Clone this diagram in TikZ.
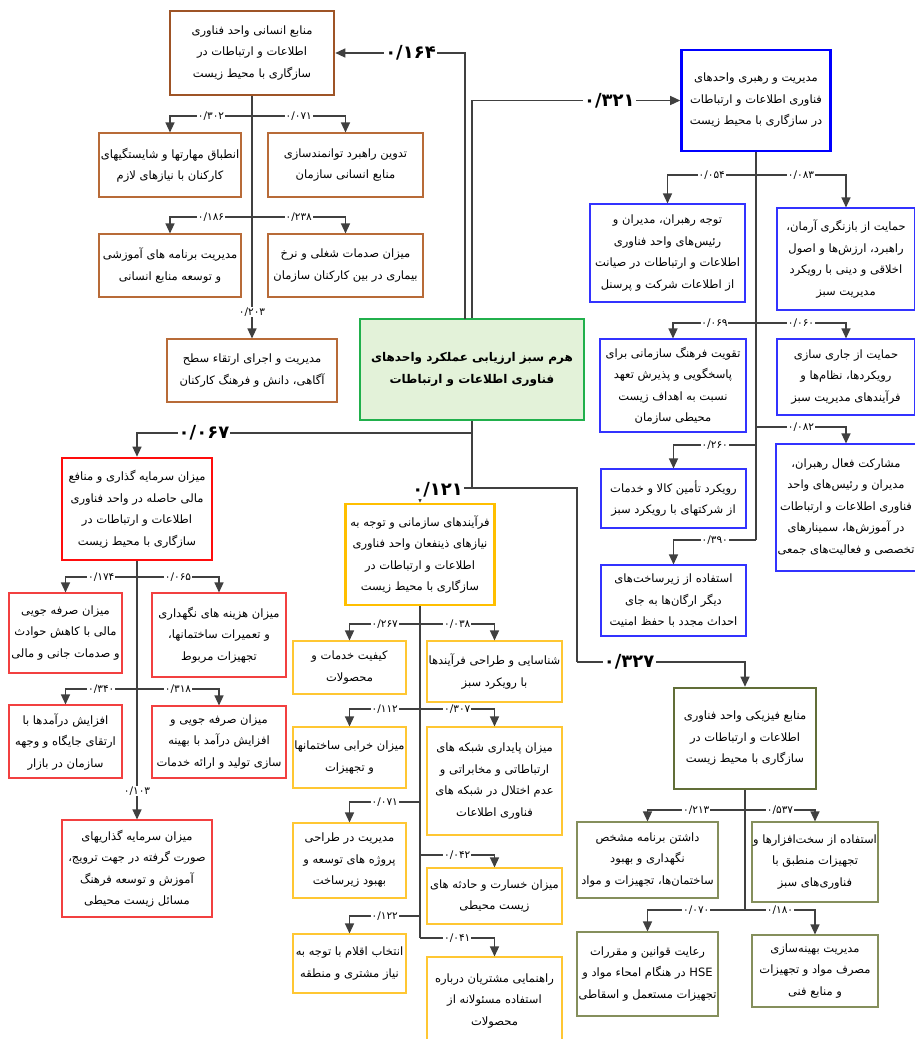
\documentclass[tikz,border=0pt]{standalone}
\usepackage{fontspec}
\usetikzlibrary{arrows.meta}
\newfontfamily\farsi[Script=Arabic]{DejaVu Sans}
\TeXXeTstate=1
\newcommand\fa[1]{\beginR#1\endR}
\definecolor{wire}{rgb}{0.25,0.25,0.25}
\definecolor{brn}{rgb}{0.62,0.33,0.15}
\definecolor{brnlight}{rgb}{0.72,0.42,0.22}
\definecolor{blu}{rgb}{0.00,0.00,1.00}
\definecolor{blulight}{rgb}{0.20,0.20,1.00}
\definecolor{grn}{rgb}{0.13,0.69,0.30}
\definecolor{grnfill}{rgb}{0.89,0.95,0.85}
\definecolor{rd}{rgb}{1.00,0.05,0.05}
\definecolor{rdlight}{rgb}{0.95,0.25,0.25}
\definecolor{ylw}{rgb}{1.00,0.75,0.00}
\definecolor{ylwlight}{rgb}{1.00,0.78,0.20}
\definecolor{olv}{rgb}{0.38,0.43,0.22}
\definecolor{olvlight}{rgb}{0.52,0.56,0.36}

\begin{document}
\begin{tikzpicture}[x=1pt,y=-1pt,
   leaf/.style={draw,line width=1.1pt,align=center,inner sep=1pt,
                font=\farsi\fontsize{11.5}{21.5}\selectfont},
   head/.style={leaf,line width=2.6pt},
   wire/.style={draw=wire,line width=1.3pt},
   arr/.style={wire,-{Triangle[length=10pt,width=9pt]}},
   num/.style={fill=white,inner sep=0.8pt,font=\farsi\fontsize{10.5}{11}\selectfont},
   bignum/.style={fill=white,inner sep=1.2pt,font=\farsi\bfseries\fontsize{18}{19}\selectfont}]
  \path[use as bounding box,fill=white] (0,0) rectangle (914,1039);

  % centre
  \node[head,draw=grn,fill=grnfill,minimum width=224,minimum height=101,
        font=\farsi\bfseries\fontsize{12}{22}\selectfont] (hub) at (472,369.5)
    {\fa{هرم سبز ارزیابی عملکرد واحدهای}\\\fa{فناوری اطلاعات و ارتباطات}};

  % human resources
  \node[head,draw=brn,minimum width=164,minimum height=84] (hr) at (252,53)
    {\fa{منابع انسانی واحد فناوری}\\\fa{اطلاعات و ارتباطات در}\\\fa{سازگاری با محیط زیست}};
  \node[leaf,draw=brnlight,minimum width=142,minimum height=64] (h1) at (170,165)
    {\fa{انطباق مهارتها و شایستگیهای}\\\fa{کارکنان با نیازهای لازم}};
  \node[leaf,draw=brnlight,minimum width=155,minimum height=64] (h2) at (345.5,165)
    {\fa{تدوین راهبرد توانمندسازی}\\\fa{منابع انسانی سازمان}};
  \node[leaf,draw=brnlight,minimum width=142,minimum height=63] (h3) at (170,265.5)
    {\fa{مدیریت برنامه های آموزشی}\\\fa{و توسعه منابع انسانی}};
  \node[leaf,draw=brnlight,minimum width=155,minimum height=63] (h4) at (345.5,265.5)
    {\fa{میزان صدمات شغلی و نرخ}\\\fa{بیماری در بین کارکنان سازمان}};
  \node[leaf,draw=brnlight,minimum width=170,minimum height=63] (h5) at (252,370.5)
    {\fa{مدیریت و اجرای ارتقاء سطح}\\\fa{آگاهی، دانش و فرهنگ کارکنان}};

  % leadership
  \node[head,draw=blu,minimum width=149,minimum height=101] (lead) at (756,100.5)
    {\fa{مدیریت و رهبری واحدهای}\\\fa{فناوری اطلاعات و ارتباطات}\\\fa{در سازگاری با محیط زیست}};
  \node[leaf,draw=blulight,minimum width=155,minimum height=98] (b1) at (667.5,253)
    {\fa{توجه رهبران، مدیران و}\\\fa{رئیس‌های واحد فناوری}\\\fa{اطلاعات و ارتباطات در صیانت}\\\fa{از اطلاعات شرکت و پرسنل}};
  \node[leaf,draw=blulight,minimum width=138,minimum height=102] (b2) at (846,259)
    {\fa{حمایت از بازنگری آرمان،}\\\fa{راهبرد، ارزش‌ها و اصول}\\\fa{اخلاقی و دینی با رویکرد}\\\fa{مدیریت سبز}};
  \node[leaf,draw=blulight,minimum width=146,minimum height=93] (b3) at (673,385.5)
    {\fa{تقویت فرهنگ سازمانی برای}\\\fa{پاسخگویی و پذیرش تعهد}\\\fa{نسبت به اهداف زیست}\\\fa{محیطی سازمان}};
  \node[leaf,draw=blulight,minimum width=138,minimum height=76] (b4) at (846,377)
    {\fa{حمایت از جاری سازی}\\\fa{رویکردها، نظام‌ها و}\\\fa{فرآیندهای مدیریت سبز}};
  \node[leaf,draw=blulight,minimum width=140,minimum height=127] (b5) at (846,507.5)
    {\fa{مشارکت فعال رهبران،}\\\fa{مدیران و رئیس‌های واحد}\\\fa{فناوری اطلاعات و ارتباطات}\\\fa{در آموزش‌ها، سمینارهای}\\\fa{تخصصی و فعالیت‌های جمعی}};
  \node[leaf,draw=blulight,minimum width=145,minimum height=59] (b6) at (673.5,498.5)
    {\fa{رویکرد تأمین کالا و خدمات}\\\fa{از شرکتهای با رویکرد سبز}};
  \node[leaf,draw=blulight,minimum width=145,minimum height=71] (b7) at (673.5,600.5)
    {\fa{استفاده از زیرساخت‌های}\\\fa{دیگر ارگان‌ها به جای}\\\fa{احداث مجدد با حفظ امنیت}};

  % finance
  \node[head,draw=rd,minimum width=150,minimum height=102] (fin) at (137,509)
    {\fa{میزان سرمایه گذاری و منافع}\\\fa{مالی حاصله در واحد فناوری}\\\fa{اطلاعات و ارتباطات در}\\\fa{سازگاری با محیط زیست}};
  \node[leaf,draw=rdlight,minimum width=113,minimum height=80] (f1) at (65.5,633)
    {\fa{میزان صرفه جویی}\\\fa{مالی با کاهش حوادث}\\\fa{و صدمات جانی و مالی}};
  \node[leaf,draw=rdlight,minimum width=134,minimum height=84] (f2) at (219,635)
    {\fa{میزان هزینه های نگهداری}\\\fa{و تعمیرات ساختمانها،}\\\fa{تجهیزات مربوط}};
  \node[leaf,draw=rdlight,minimum width=113,minimum height=73] (f3) at (65.5,741.5)
    {\fa{افزایش درآمدها با}\\\fa{ارتقای جایگاه و وجهه}\\\fa{سازمان در بازار}};
  \node[leaf,draw=rdlight,minimum width=134,minimum height=72] (f4) at (219,742)
    {\fa{میزان صرفه جویی و}\\\fa{افزایش درآمد با بهینه}\\\fa{سازی تولید و ارائه خدمات}};
  \node[leaf,draw=rdlight,minimum width=150,minimum height=97] (f5) at (137,868.5)
    {\fa{میزان سرمایه گذاریهای}\\\fa{صورت گرفته در جهت ترویج،}\\\fa{آموزش و توسعه فرهنگ}\\\fa{مسائل زیست محیطی}};

  % processes
  \node[head,draw=ylw,minimum width=149,minimum height=101] (proc) at (420,554.5)
    {\fa{فرآیندهای سازمانی و توجه به}\\\fa{نیازهای ذینفعان واحد فناوری}\\\fa{اطلاعات و ارتباطات در}\\\fa{سازگاری با محیط زیست}};
  \node[leaf,draw=ylwlight,minimum width=113,minimum height=53] (p1) at (349.5,667.5)
    {\fa{کیفیت خدمات و}\\\fa{محصولات}};
  \node[leaf,draw=ylwlight,minimum width=135,minimum height=61] (p2) at (494.5,671.5)
    {\fa{شناسایی و طراحی فرآیندها}\\\fa{با رویکرد سبز}};
  \node[leaf,draw=ylwlight,minimum width=113,minimum height=61] (p3) at (349.5,757.5)
    {\fa{میزان خرابی ساختمانها}\\\fa{و تجهیزات}};
  \node[leaf,draw=ylwlight,minimum width=135,minimum height=108] (p4) at (494.5,781)
    {\fa{میزان پایداری شبکه های}\\\fa{ارتباطاتی و مخابراتی و}\\\fa{عدم اختلال در شبکه های}\\\fa{فناوری اطلاعات}};
  \node[leaf,draw=ylwlight,minimum width=113,minimum height=75] (p5) at (349.5,860.5)
    {\fa{مدیریت در طراحی}\\\fa{پروژه های توسعه و}\\\fa{بهبود زیرساخت}};
  \node[leaf,draw=ylwlight,minimum width=135,minimum height=56] (p6) at (494.5,896)
    {\fa{میزان خسارت و حادثه های}\\\fa{زیست محیطی}};
  \node[leaf,draw=ylwlight,minimum width=113,minimum height=59] (p7) at (349.5,963.5)
    {\fa{انتخاب اقلام با توجه به}\\\fa{نیاز مشتری و منطقه}};
  \node[leaf,draw=ylwlight,minimum width=135,minimum height=88] (p8) at (494.5,1001)
    {\fa{راهنمایی مشتریان درباره}\\\fa{استفاده مسئولانه از}\\\fa{محصولات}};

  % physical resources
  \node[head,draw=olv,minimum width=142,minimum height=101] (phys) at (745,738.5)
    {\fa{منابع فیزیکی واحد فناوری}\\\fa{اطلاعات و ارتباطات در}\\\fa{سازگاری با محیط زیست}};
  \node[leaf,draw=olvlight,minimum width=141,minimum height=76] (g1) at (647.5,860)
    {\fa{داشتن برنامه مشخص}\\\fa{نگهداری و بهبود}\\\fa{ساختمان‌ها، تجهیزات و مواد}};
  \node[leaf,draw=olvlight,minimum width=126,minimum height=80] (g2) at (815,862)
    {\fa{استفاده از سخت‌افزارها و}\\\fa{تجهیزات منطبق با}\\\fa{فناوری‌های سبز}};
  \node[leaf,draw=olvlight,minimum width=141,minimum height=84] (g3) at (647.5,974)
    {\fa{رعایت قوانین و مقررات}\\\fa{\beginL HSE\endL{} در هنگام امحاء مواد و}\\\fa{تجهیزات مستعمل و اسقاطی}};
  \node[leaf,draw=olvlight,minimum width=126,minimum height=72] (g4) at (815,971)
    {\fa{مدیریت بهینه‌سازی}\\\fa{مصرف مواد و تجهیزات}\\\fa{و منابع فنی}};

  % junctions
  \coordinate (up) at (465,319);
  \coordinate (lj) at (472,433);
  \coordinate (mj) at (472,488);
  \coordinate (rj) at (577,662);
  \coordinate (hj1) at (252,116);
  \coordinate (hj2) at (252,217);
  \coordinate (bj1) at (756,175);
  \coordinate (bj2) at (756,323);
  \coordinate (bj3) at (756,427);
  \coordinate (bj4) at (756,445);
  \coordinate (bj5) at (756,540);
  \coordinate (fj1) at (137,577);
  \coordinate (fj2) at (137,689);
  \coordinate (pj1) at (420,624);
  \coordinate (pj2) at (420,709);
  \coordinate (pj3) at (420,802);
  \coordinate (pj4) at (420,855);
  \coordinate (pj5) at (420,916);
  \coordinate (pj6) at (420,938);
  \coordinate (gj1) at (745,810);
  \coordinate (gj2) at (745,910);

  % links out of the centre
  \draw[arr] (up) |- node[bignum,pos=0.71]{۰/۱۶۴} (hr.east);
  \draw[arr] (hub.north) |- node[bignum,pos=0.83]{۰/۳۲۱} (lead.west);
  \draw[wire] (hub.south) -- (mj);
  \draw[arr] (lj) -| node[bignum,pos=0.40]{۰/۰۶۷} (fin.north);
  \draw[wire] (mj) -| (rj);
  \draw[arr] (mj) -| node[bignum,pos=0.33,yshift=-2pt]{۰/۱۲۱} (proc.north);
  \draw[arr] (rj) -| node[bignum,pos=0.155]{۰/۳۲۷} (phys.north);

  % human resources tree
  \draw[arr] (hr.south) -- node[num,pos=0.89]{۰/۲۰۳} (h5.north);
  \draw[arr] (hj1) -| node[num,pos=0.25]{۰/۳۰۲} (h1.north);
  \draw[arr] (hj1) -| node[num,pos=0.25]{۰/۰۷۱} (h2.north);
  \draw[arr] (hj2) -| node[num,pos=0.25]{۰/۱۸۶} (h3.north);
  \draw[arr] (hj2) -| node[num,pos=0.25]{۰/۲۳۸} (h4.north);

  % leadership tree
  \draw[wire] (lead.south) -- (bj5);
  \draw[arr] (bj1) -| node[num,pos=0.25]{۰/۰۵۴} (b1.north);
  \draw[arr] (bj1) -| node[num,pos=0.25]{۰/۰۸۳} (b2.north);
  \draw[arr] (bj2) -| node[num,pos=0.25]{۰/۰۶۹} (b3.north);
  \draw[arr] (bj2) -| node[num,pos=0.25]{۰/۰۶۰} (b4.north);
  \draw[arr] (bj3) -| node[num,pos=0.25]{۰/۰۸۲} (b5.north);
  \draw[arr] (bj4) -| node[num,pos=0.25]{۰/۲۶۰} (b6.north);
  \draw[arr] (bj5) -| node[num,pos=0.25]{۰/۳۹۰} (b7.north);

  % finance tree
  \draw[arr] (fin.south) -- node[num,pos=0.89]{۰/۱۰۳} (f5.north);
  \draw[arr] (fj1) -| node[num,pos=0.25]{۰/۱۷۴} (f1.north);
  \draw[arr] (fj1) -| node[num,pos=0.25]{۰/۰۶۵} (f2.north);
  \draw[arr] (fj2) -| node[num,pos=0.25]{۰/۳۴۰} (f3.north);
  \draw[arr] (fj2) -| node[num,pos=0.25]{۰/۳۱۸} (f4.north);

  % processes tree
  \draw[wire] (proc.south) -- (pj6);
  \draw[arr] (pj1) -| node[num,pos=0.25]{۰/۲۶۷} (p1.north);
  \draw[arr] (pj1) -| node[num,pos=0.25]{۰/۰۳۸} (p2.north);
  \draw[arr] (pj2) -| node[num,pos=0.25]{۰/۱۱۲} (p3.north);
  \draw[arr] (pj2) -| node[num,pos=0.25]{۰/۳۰۷} (p4.north);
  \draw[arr] (pj3) -| node[num,pos=0.25]{۰/۰۷۱} (p5.north);
  \draw[arr] (pj4) -| node[num,pos=0.25]{۰/۰۴۲} (p6.north);
  \draw[arr] (pj5) -| node[num,pos=0.25]{۰/۱۲۲} (p7.north);
  \draw[arr] (pj6) -| node[num,pos=0.25]{۰/۰۴۱} (p8.north);

  % physical resources tree
  \draw[wire] (phys.south) -- (gj2);
  \draw[arr] (gj1) -| node[num,pos=0.25]{۰/۲۱۳} (g1.north);
  \draw[arr] (gj1) -| node[num,pos=0.25]{۰/۵۳۷} (g2.north);
  \draw[arr] (gj2) -| node[num,pos=0.25]{۰/۰۷۰} (g3.north);
  \draw[arr] (gj2) -| node[num,pos=0.25]{۰/۱۸۰} (g4.north);
\end{tikzpicture}
\end{document}
